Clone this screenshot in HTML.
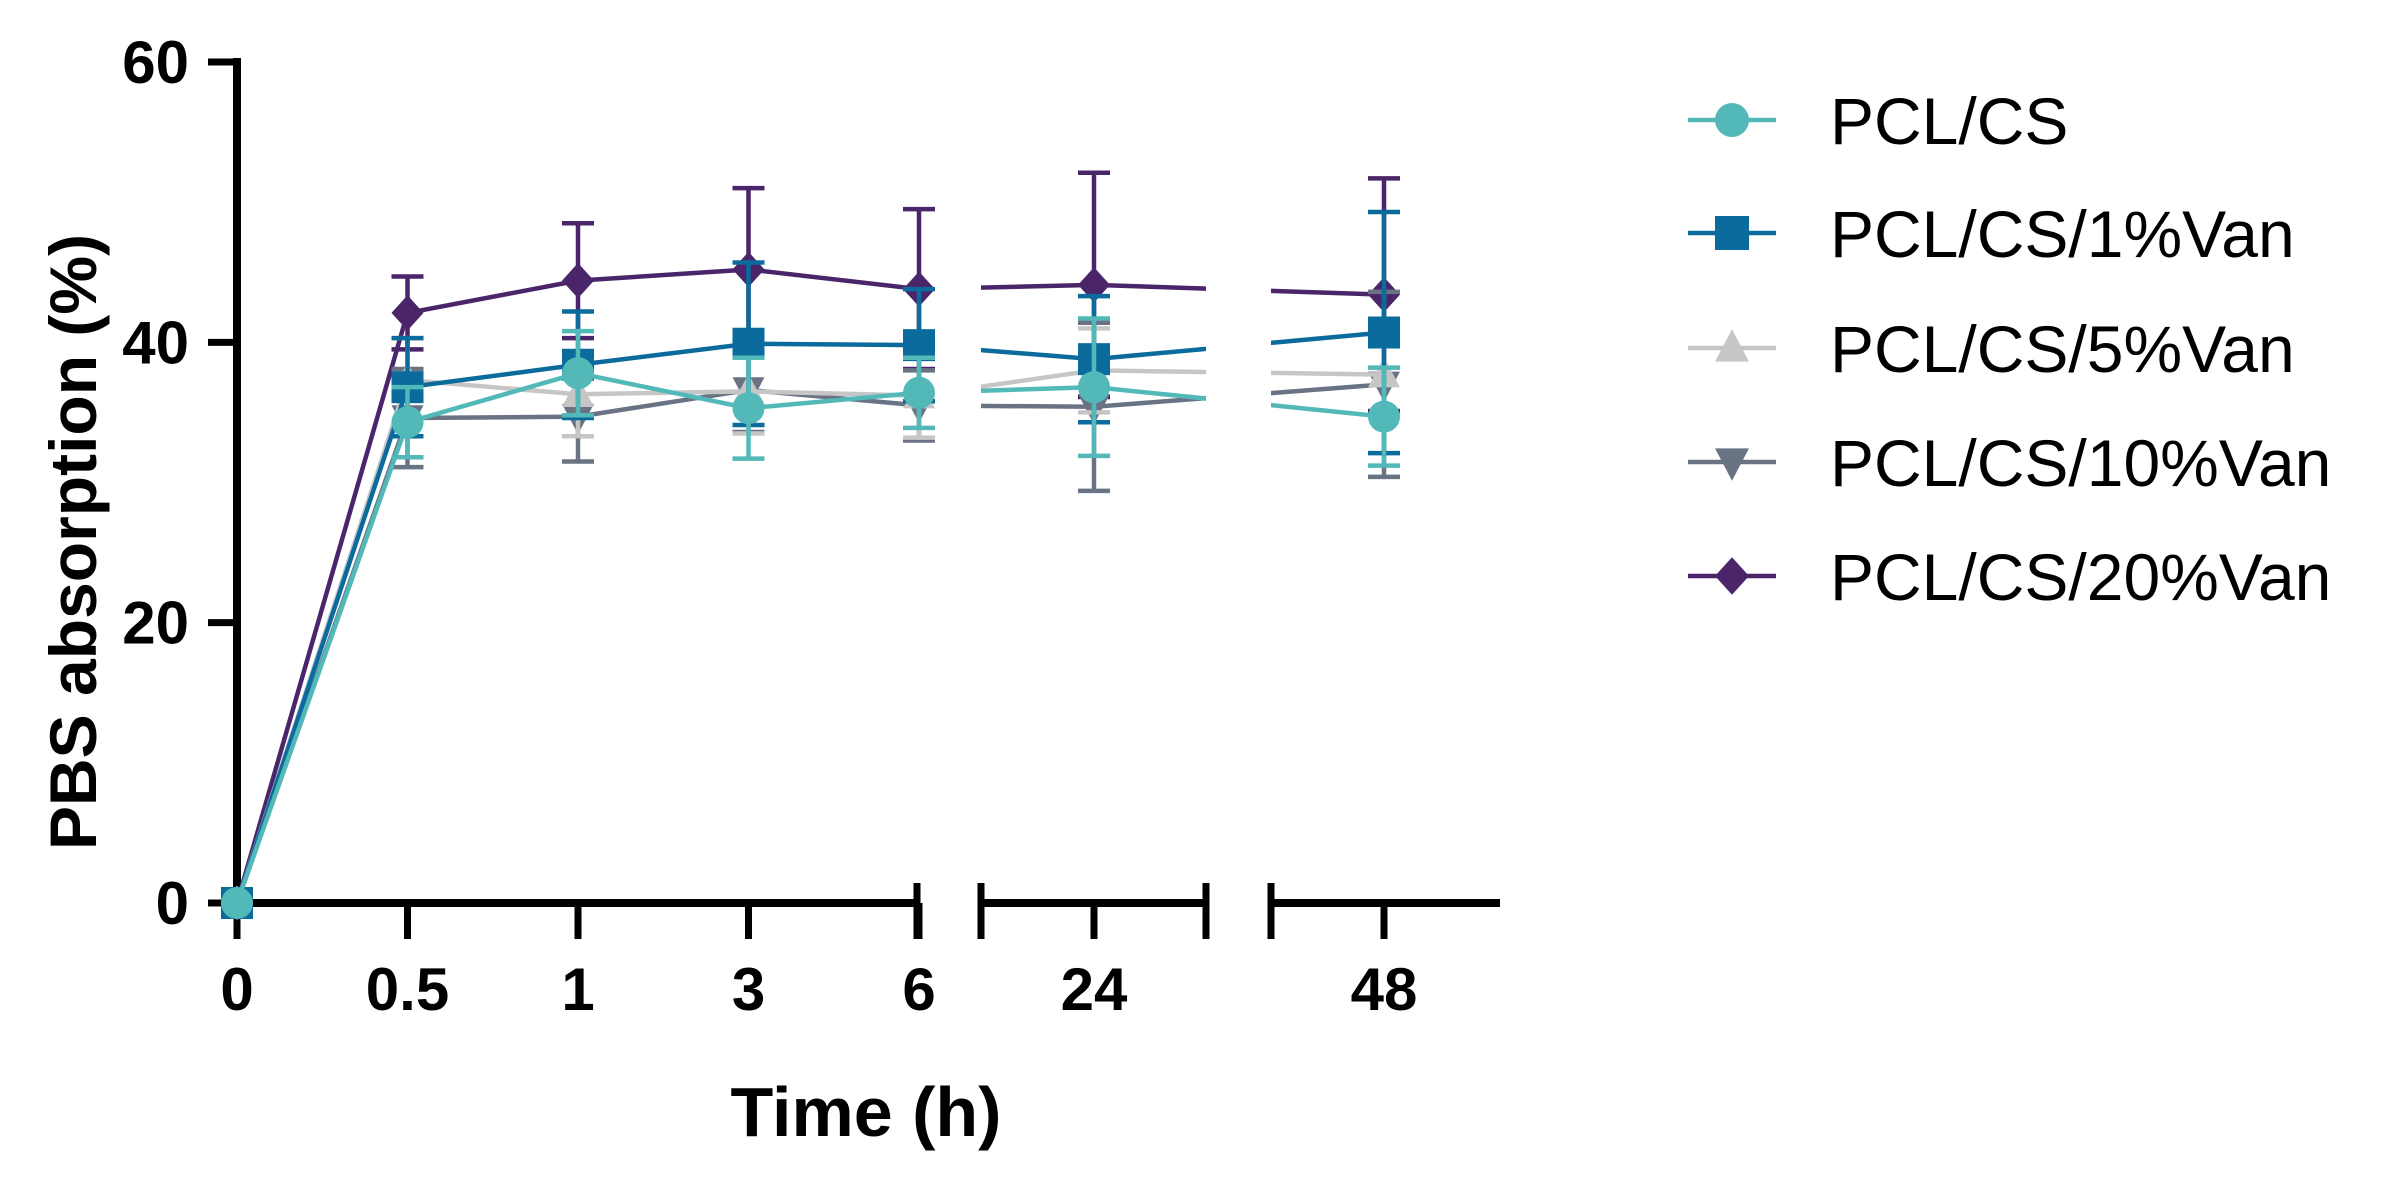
<!DOCTYPE html>
<html><head><meta charset="utf-8"><style>
html,body{margin:0;padding:0;background:#fff;}
svg{display:block;font-family:"Liberation Sans",Arial,sans-serif;}
</style></head><body>
<svg id="chart" width="2393" height="1190" viewBox="0 0 2393 1190" xmlns="http://www.w3.org/2000/svg">
<defs>
<clipPath id="gapclip">
<rect x="0" y="0" width="917" height="1190"/>
<rect x="981" y="0" width="225" height="1190"/>
<rect x="1271" y="0" width="1122" height="1190"/>
</clipPath>
</defs>
<g id="axes"></g>
<g id="series"></g>
<g id="legend"></g>
</svg>
<script>
const categories = ["0","0.5","1","3","6","24","48"];
const yTicks = [0,20,40,60];
const seriesNames = ["PCL/CS","PCL/CS/1%Van","PCL/CS/5%Van","PCL/CS/10%Van","PCL/CS/20%Van"];
const valsCS   = [0,34.3,37.8,35.3,36.4,36.8,34.7];
const sdCS     = [0,2.5,3.0,3.6,2.5,4.9,3.5];
const vals1    = [0,36.8,38.4,39.9,39.8,38.8,40.7];
const sd1      = [0,3.5,3.8,5.8,4.0,4.5,8.6];
const vals5    = [0,37.3,36.3,36.5,36.2,38.0,37.7];
const sd5      = [0,3.0,3.0,3.0,3.0,3.0,3.0];
const vals10   = [0,34.6,34.7,36.6,35.5,35.4,37.0];
const sd10     = [0,3.5,3.2,3.0,2.5,6.0,6.6];
const vals20   = [0,42.1,44.4,45.2,43.8,44.1,43.4];
const sd20     = [0,2.6,4.1,5.8,5.7,8.0,8.3];

const NS="http://www.w3.org/2000/svg";
const Y0=903, Y60=62;
function yScale(v){return Y0-(Y0-Y60)*v/60;}
function xScale(i){ if(i<=4) return 237+i*170.5; if(i===5) return 1094; return 1384; }
function mk(tag,attrs,parent){const e=document.createElementNS(NS,tag);for(const k in attrs)e.setAttribute(k,attrs[k]);parent.appendChild(e);return e;}
const axes=document.getElementById('axes');
let yl=mk('line',{x1:237,y1:Y60-4,x2:237,y2:Y0+4,stroke:'#000','stroke-width':8},axes);


yTicks.forEach(t=>{
 const y=yScale(t);
 const tk=mk('line',{x1:208,y1:y,x2:237,y2:y,stroke:'#000','stroke-width':7},axes);
 
 
 const tx=mk('text',{x:189,y:y+21,'text-anchor':'end','font-size':60,'font-weight':'bold'},axes);
 tx.textContent=t;
 
 
});
[[233,917],[981,1206],[1271,1500]].forEach(s=>{
 const l=mk('line',{x1:s[0],y1:Y0,x2:s[1],y2:Y0,stroke:'#000','stroke-width':8},axes);
 
 
});
[917,981,1206,1271].forEach(x=>{
 const l=mk('line',{x1:x,y1:Y0-20,x2:x,y2:Y0+36,stroke:'#000','stroke-width':7},axes);
 
 
});
categories.forEach((c,i)=>{
 const x=xScale(i);
 const tk=mk('line',{x1:x,y1:Y0,x2:x,y2:Y0+36,stroke:'#000','stroke-width':7},axes);
 
 
 const tx=mk('text',{x:x,y:1010,'text-anchor':'middle','font-size':60,'font-weight':'bold'},axes);
 tx.textContent=c;
 
 
});
let xt=mk('text',{x:866,y:1136,'text-anchor':'middle','font-size':70,'font-weight':'bold'},axes);
xt.textContent='Time (h)';


let ytt=mk('text',{x:0,y:0,'text-anchor':'middle','font-size':66,'font-weight':'bold',transform:'translate(96,542) rotate(-90)'},axes);
ytt.textContent='PBS absorption (%)';



const colors=['#52b8b8','#0b6b9c','#c6c6c6','#6a7384','#4b2569'];
const shapes=['circle','square','tri','itri','diamond'];
const allVals=[valsCS,vals1,vals5,vals10,vals20];
const allSd=[sdCS,sd1,sd5,sd10,sd20];
function marker(shape,x,y,c,r,parent){
 let e;
 if(shape==='circle') e=mk('circle',{cx:x,cy:y,r:r,fill:c},parent);
 else if(shape==='square') e=mk('rect',{x:x-r,y:y-r,width:2*r,height:2*r,fill:c},parent);
 else if(shape==='tri') e=mk('polygon',{points:`${x},${y-r*1.1} ${x-r},${y+r*0.8} ${x+r},${y+r*0.8}`,fill:c},parent);
 else if(shape==='itri') e=mk('polygon',{points:`${x},${y+r*1.1} ${x-r},${y-r*0.8} ${x+r},${y-r*0.8}`,fill:c},parent);
 else e=mk('polygon',{points:`${x},${y-r*1.1} ${x+r},${y} ${x},${y+r*1.1} ${x-r},${y}`,fill:c},parent);
 return e;
}
const sg=document.getElementById('series');
[4,3,2,1,0].forEach(si=>{
 const g=mk('g',{},sg);
 
 
 const v=allVals[si], sd=allSd[si], c=colors[si];
 const pts=v.map((val,i)=>xScale(i)+','+yScale(val)).join(' ');
 const pl=mk('polyline',{points:pts,fill:'none',stroke:c,'stroke-width':4.5,'clip-path':'url(#gapclip)'},g);
 
 
 v.forEach((val,i)=>{
  if(sd[i]>0){
   const x=xScale(i), yt=yScale(val+sd[i]), yb=yScale(val-sd[i]);
   const eb=mk('path',{d:`M${x},${yt}V${yb}M${x-16},${yt}H${x+16}M${x-16},${yb}H${x+16}`,stroke:c,'stroke-width':4.5,fill:'none'},g);
   
   
  }
 });
 v.forEach((val,i)=>{
  const m=marker(shapes[si],xScale(i),yScale(val),c,16,g);
  
  
 });
});
const lg=document.getElementById('legend');
const legY=[120,233,348,462,576];
seriesNames.forEach((n,i)=>{
 const g=mk('g',{},lg);
 
 
 mk('line',{x1:1688,y1:legY[i],x2:1776,y2:legY[i],stroke:colors[i],'stroke-width':4.5},g);
 marker(shapes[i],1732,legY[i],colors[i],17,g);
 const t=mk('text',{x:1830,y:legY[i]+24,'font-size':66},g);
 t.textContent=n;
 
 
});
</script>
</body></html>
